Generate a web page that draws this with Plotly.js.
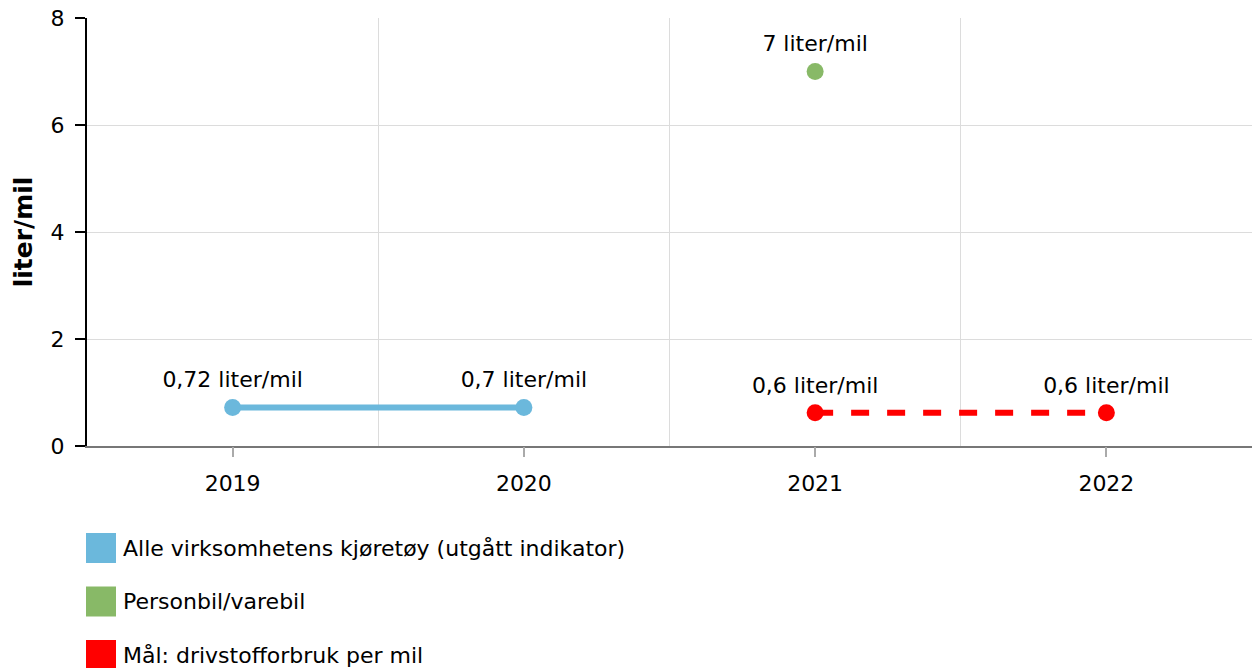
<!DOCTYPE html>
<html>
<head>
<meta charset="utf-8">
<script src="https://cdn.plot.ly/plotly-3.0.1.min.js"></script>
<style>html,body{margin:0;padding:0;background:#fff;}#chart{width:1255px;height:668px;}</style>
</head>
<body>
<div id="chart"></div>
<script>
const years = ['2019', '2020', '2021', '2022'];

const seriesNames = ['Alle virksomhetens kjøretøy (utgått indikator)', 'Personbil/varebil', 'Mål: drivstofforbruk per mil'];
const seriesColors = ['#6bb8dc', '#88b967', '#ff0000'];

const allVehiclesX = ['2019', '2020'];
const allVehiclesY = [0.72, 0.72];
const allVehiclesLabels = ['0,72 liter/mil', '0,7 liter/mil'];

const carVanX = ['2021'];
const carVanY = [7];
const carVanLabels = ['7 liter/mil'];

const targetX = ['2021', '2022'];
const targetY = [0.62, 0.62];
const targetLabels = ['0,6 liter/mil', '0,6 liter/mil'];

const FONT = 'DejaVu Sans, Verdana, sans-serif';
const FS = 22;

function labelTrace(x, y, text) {
  return {x: x, y: y, text: text, type: 'scatter', mode: 'markers+text', textposition: 'top center',
    marker: {color: 'rgba(0,0,0,0)', size: 22}, textfont: {family: FONT, size: FS, color: '#000'},
    cliponaxis: false, showlegend: false, hoverinfo: 'skip'};
}

const traces = [
  {x: allVehiclesX, y: allVehiclesY, name: seriesNames[0], type: 'scatter',
   mode: 'lines+markers',
   line: {color: seriesColors[0], width: 6}, marker: {color: seriesColors[0], size: 17},
   cliponaxis: false, showlegend: false},
  {x: carVanX, y: carVanY, name: seriesNames[1], type: 'scatter',
   mode: 'markers',
   marker: {color: seriesColors[1], size: 17},
   cliponaxis: false, showlegend: false},
  {x: targetX, y: targetY, name: seriesNames[2], type: 'scatter',
   mode: 'lines+markers',
   line: {color: seriesColors[2], width: 6, dash: '18px,18px'}, marker: {color: seriesColors[2], size: 17},
   cliponaxis: false, showlegend: false},
  labelTrace(allVehiclesX, allVehiclesY, allVehiclesLabels),
  labelTrace(carVanX, carVanY, carVanLabels),
  labelTrace(targetX, targetY, targetLabels),
  // invisible trace on the overlay axis to draw centred tick marks
  {x: years, y: [null, null, null, null], xaxis: 'x2', type: 'scatter', mode: 'markers',
   hoverinfo: 'skip', showlegend: false}
];

const shapes = [];
const annotations = [];
const legendTop = 533, legendStep = 53.5, box = 30;
seriesNames.forEach((n, i) => {
  const y0 = legendTop + i * legendStep;
  shapes.push({type: 'rect', xref: 'paper', yref: 'paper',
    x0: (86 - 87) / 1165, x1: (116 - 87) / 1165,
    y0: (446 - y0) / 428, y1: (446 - y0 - box) / 428,
    fillcolor: seriesColors[i], line: {width: 0}});
  annotations.push({xref: 'paper', yref: 'paper', x: (121 - 87) / 1165,
    y: (446 - (y0 + box / 2)) / 428, xanchor: 'left', yanchor: 'middle',
    text: n, showarrow: false, font: {family: FONT, size: FS, color: '#000'}});
});

const layout = {
  width: 1255, height: 668,
  margin: {l: 87, r: 3, t: 18, b: 222},
  paper_bgcolor: '#fff', plot_bgcolor: '#fff',
  font: {family: FONT, size: FS, color: '#000'},
  showlegend: false,
  xaxis: {type: 'category', categoryarray: years, categoryorder: 'array',
    range: [-0.5, 3.5], tickson: 'boundaries', ticks: '', showgrid: true,
    gridcolor: '#dcdcdc', gridwidth: 1, showline: true, linecolor: '#777', linewidth: 2,
    showticklabels: false, zeroline: false, fixedrange: true},
  xaxis2: {type: 'category', categoryarray: years, categoryorder: 'array',
    range: [-0.5, 3.5], overlaying: 'x', anchor: 'y', side: 'bottom',
    ticks: 'outside', ticklen: 10, tickcolor: '#aaa', tickwidth: 2,
    showgrid: false, showline: false, zeroline: false,
    tickfont: {family: FONT, size: FS, color: '#000'}, ticklabelstandoff: 8},
  yaxis: {range: [0, 8], dtick: 2, ticks: 'outside', ticklen: 10, tickcolor: '#000', tickwidth: 2,
    showline: true, linecolor: '#000', linewidth: 2, gridcolor: '#dcdcdc', zeroline: false,
    tickfont: {family: FONT, size: FS, color: '#000'}, ticklabelstandoff: 6,
    title: {text: '<b>liter/mil</b>', font: {family: FONT, size: 25, color: '#000'}, standoff: 11}},
  shapes: shapes,
  annotations: annotations
};

Plotly.newPlot('chart', traces, layout, {displayModeBar: false, staticPlot: true});
</script>
</body>
</html>
